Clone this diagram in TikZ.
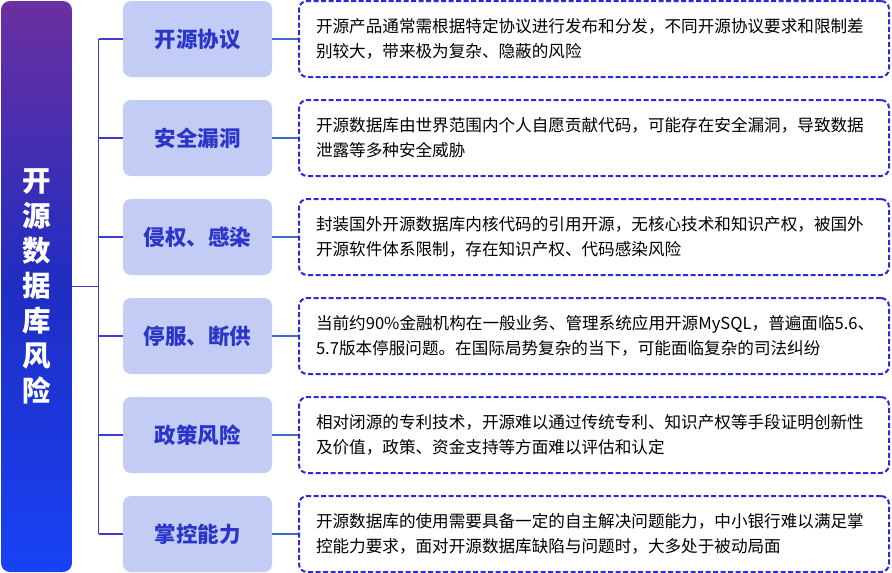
\documentclass[tikz,border=0pt]{standalone}
\usepackage{fontspec}
\setmainfont{Noto Sans CJK SC}
\newfontfamily\cjk{Noto Sans CJK SC}
\usetikzlibrary{positioning}
\definecolor{barTop}{HTML}{6B2FA0}
\definecolor{barMid}{HTML}{1F2DC2}
\definecolor{barBot}{HTML}{1842F5}
\definecolor{titleFill}{HTML}{C3CCF5}
\definecolor{titleText}{HTML}{2B36C8}
\definecolor{dashBlue}{HTML}{2A2AD6}
\definecolor{brk}{HTML}{3C3CD4}
\definecolor{link}{HTML}{3F6CCC}
\tikzset{
  titlebox/.style={rectangle, rounded corners=8pt, fill=titleFill, minimum width=149pt, minimum height=76pt,
    font=\cjk\bfseries\fontsize{21.5}{25}\selectfont, text=titleText, inner sep=0pt},
  descbox/.style={rectangle, rounded corners=8pt, draw=dashBlue, line width=2pt, dash pattern=on 5pt off 2.5pt,
    minimum width=590pt, minimum height=76pt, text width=556pt, inner xsep=17pt, align=left,
    font=\cjk\fontsize{16.6}{25}\selectfont, text=black},
  brkline/.style={draw=brk, line width=1.2pt},
  linkline/.style={draw=link, line width=1.2pt}
}
\begin{document}
\begin{tikzpicture}[x=1pt,y=-1pt]
\useasboundingbox (0,0) rectangle (892,573);
\node[rectangle, rounded corners=9pt, minimum width=71pt, minimum height=571pt, inner sep=0pt,
  top color=barTop, bottom color=barBot, middle color=barMid, text=white, align=center,
  font=\cjk\bfseries\fontsize{28.5}{35}\selectfont] (bar) at (36.5,286.5) {开\\源\\数\\据\\库\\风\\险};
\coordinate (sp) at (98.5,0);
\foreach \i/\t/\a/\b in {
 1/开源协议/开源产品通常需根据特定协议进行发布和分发，不同开源协议要求和限制差/别较大，带来极为复杂、隐蔽的风险,
 2/安全漏洞/开源数据库由世界范围内个人自愿贡献代码，可能存在安全漏洞，导致数据/泄露等多种安全威胁,
 3/侵权、感染/封装国外开源数据库内核代码的引用开源，无核心技术和知识产权，被国外/开源软件体系限制，存在知识产权、代码感染风险,
 4/停服、断供/当前约90\%金融机构在一般业务、管理系统应用开源MySQL，普遍面临5.6、/5.7版本停服问题。在国际局势复杂的当下，可能面临复杂的司法纠纷,
 5/政策风险/相对闭源的专利技术，开源难以通过传统专利、知识产权等手段证明创新性/及价值，政策、资金支持等方面难以评估和认定,
 6/掌控能力/开源数据库的使用需要具备一定的自主解决问题能力，中小银行难以满足掌/控能力要求，面对开源数据库缺陷与问题时，大多处于被动局面}{
  \pgfmathsetmacro{\yy}{39+99*(\i-1)}
  \node[titlebox] (t\i) at (197.5,\yy) {\t};
  \node[descbox] (d\i) at (594,\yy) {\a\\\b};
  \draw[linkline] (t\i.east) -- (d\i.west);
  \draw[brkline] (sp |- t\i.west) -- (t\i.west);
}
\draw[brkline] (sp |- t1.west) -- (sp |- t6.west);
\draw[brkline] (bar.east) -- (bar.east -| sp);
\end{tikzpicture}
\end{document}
